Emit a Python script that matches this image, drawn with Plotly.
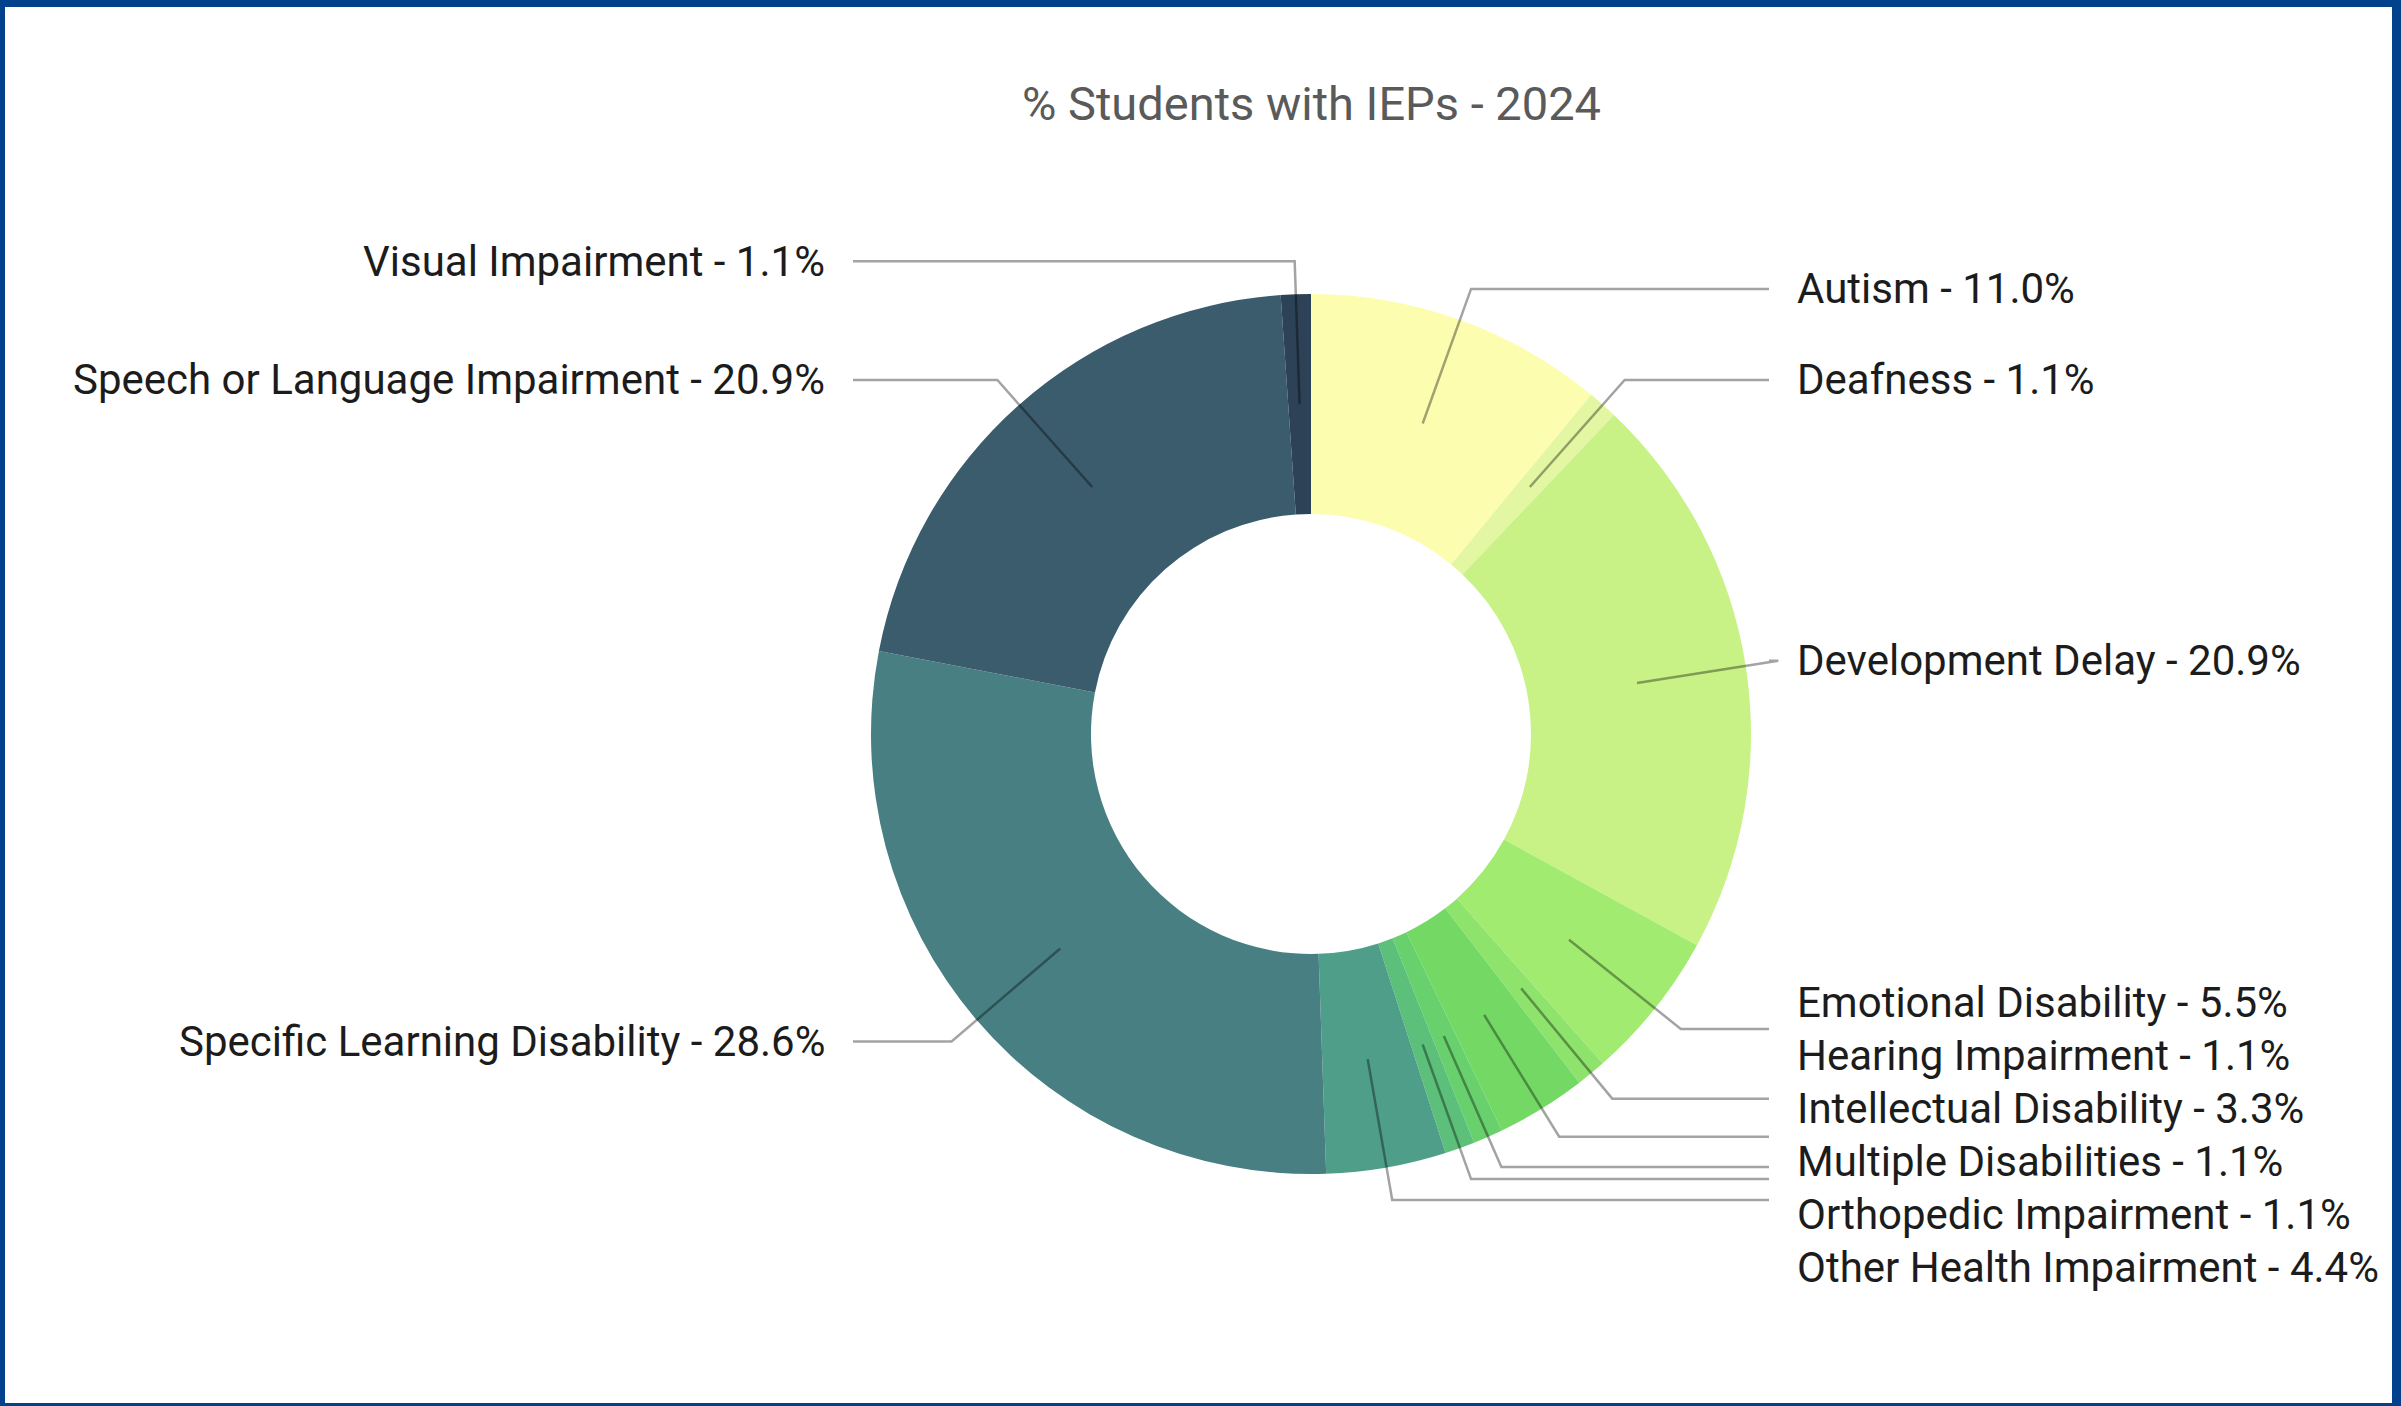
import math
import plotly.graph_objects as go

# Share of students with an IEP, by disability category (percent)
categories = [
    "Autism",
    "Deafness",
    "Development Delay",
    "Emotional Disability",
    "Hearing Impairment",
    "Intellectual Disability",
    "Multiple Disabilities",
    "Orthopedic Impairment",
    "Other Health Impairment",
    "Specific Learning Disability",
    "Speech or Language Impairment",
    "Visual Impairment",
]
percentages = [11.0, 1.1, 20.9, 5.5, 1.1, 3.3, 1.1, 1.1, 4.4, 28.6, 20.9, 1.1]
slice_colors = [
    "#FCFDAF", "#E3F6A2", "#C8F286", "#A1EB70", "#8DE36B", "#73D964",
    "#68D06C", "#5CBF7A", "#4F9E89", "#487F83", "#3A5C6C", "#2D4257",
]
title_text = "% Students with IEPs - 2024"

# Canvas and donut geometry (pixels)
W, H = 2401, 1406
CX, CY, R = 1311, 734, 440
HOLE = 0.5
R_INNER_PT = 0.75 * R      # where each leader line starts inside its slice
R_ELBOW = 1.075 * R        # where the leader line bends to horizontal
LINE_END_DX = 458          # horizontal distance from centre to end of leader line
LABEL_DX = 484             # horizontal distance from centre to label edge
LABEL_GAP = 53             # minimum vertical spacing between stacked labels

FONT = "Roboto, Arial, sans-serif"


def px(x):
    return x / W


def py(y):
    return 1 - y / H


fig = go.Figure(
    go.Pie(
        labels=categories,
        values=percentages,
        hole=HOLE,
        sort=False,
        direction="clockwise",
        rotation=0,
        marker=dict(colors=slice_colors, line=dict(width=0)),
        textinfo="none",
        hovertemplate="%{label}: %{value}%<extra></extra>",
        domain=dict(x=[px(CX - R), px(CX + R)], y=[py(CY + R), py(CY - R)]),
        showlegend=False,
    )
)

# Mid-angle of every slice, measured clockwise from 12 o'clock
total = sum(percentages)
mid_angles = []
cum = 0.0
for v in percentages:
    mid_angles.append(2 * math.pi * (cum + v / 2) / total)
    cum += v

anchors = []
for i, a in enumerate(mid_angles):
    s, c = math.sin(a), math.cos(a)
    side = 1 if s >= 0 else -1
    x0, y0 = CX + R_INNER_PT * s, CY - R_INNER_PT * c
    x1, y1 = CX + R_ELBOW * s, CY - R_ELBOW * c
    anchors.append(dict(i=i, side=side, x0=x0, y0=y0, x1=x1, y1=y1))


def spread(items):
    """Stack labels on one side so they never overlap, centring each
    overlapping group on the mean of its natural positions."""
    items = sorted(items, key=lambda d: d["y1"])
    clusters = [[d] for d in items]

    def positions(cl):
        centre = sum(d["y1"] for d in cl) / len(cl)
        n = len(cl)
        return [centre + (k - (n - 1) / 2) * LABEL_GAP for k in range(n)]

    merged = True
    while merged:
        merged = False
        for k in range(len(clusters) - 1):
            if positions(clusters[k])[-1] + LABEL_GAP > positions(clusters[k + 1])[0]:
                clusters[k] = clusters[k] + clusters[k + 1]
                del clusters[k + 1]
                merged = True
                break
    out = {}
    for cl in clusters:
        for d, y in zip(cl, positions(cl)):
            out[d["i"]] = y
    return out


label_y = {}
label_y.update(spread([a for a in anchors if a["side"] > 0]))
label_y.update(spread([a for a in anchors if a["side"] < 0]))

shapes = []
annotations = []
line_style = dict(color="rgba(0,0,0,0.36)", width=2.5)
for a in anchors:
    side = a["side"]
    x_end = CX + side * LINE_END_DX
    path = (
        f"M {px(a['x0'])} {py(a['y0'])} "
        f"L {px(a['x1'])} {py(a['y1'])} "
        f"L {px(x_end)} {py(a['y1'])}"
    )
    shapes.append(dict(type="path", path=path, xref="paper", yref="paper",
                       line=line_style, layer="above"))
    i = a["i"]
    annotations.append(dict(
        x=px(CX + side * LABEL_DX), y=py(label_y[i]),
        xref="paper", yref="paper",
        xanchor="left" if side > 0 else "right", yanchor="middle",
        text=f"{categories[i]} - {percentages[i]:.1f}%",
        showarrow=False,
        font=dict(family=FONT, size=42, color="#1c1c1c"),
    ))

# Title, centred over the donut
annotations.append(dict(
    x=px(CX), y=py(104), xref="paper", yref="paper",
    xanchor="center", yanchor="middle", text=title_text, showarrow=False,
    font=dict(family=FONT, size=47, color="#5a5a5a"),
))

# Blue frame around the card
frame = "#02418B"
for x0, x1, y0, y1 in [(0, W, 0, 7), (0, W, H - 3, H), (0, 5, 0, H), (W - 9, W, 0, H)]:
    shapes.append(dict(type="rect", xref="paper", yref="paper",
                       x0=px(x0), x1=px(x1), y0=py(y1), y1=py(y0),
                       fillcolor=frame, line=dict(width=0), layer="above"))

fig.update_layout(
    width=W, height=H,
    margin=dict(l=0, r=0, t=0, b=0),
    paper_bgcolor="white",
    plot_bgcolor="white",
    shapes=shapes,
    annotations=annotations,
    font=dict(family=FONT),
)

fig.write_html("out.html")
